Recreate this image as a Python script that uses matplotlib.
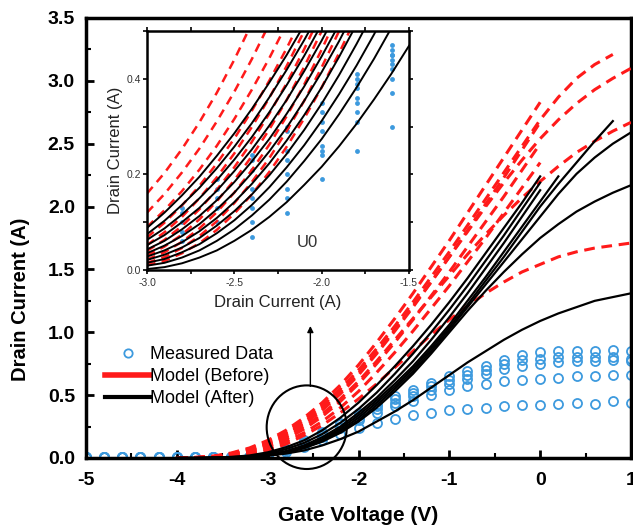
import numpy as np
import matplotlib
matplotlib.use("Agg")
import matplotlib.pyplot as plt
from matplotlib.lines import Line2D
from matplotlib.patches import Ellipse
from matplotlib.ticker import MultipleLocator, FormatStrFormatter

plt.rcParams['font.family'] = ['Liberation Sans', 'DejaVu Sans']
plt.rcParams['axes.unicode_minus'] = False

RED = '#ff1a1a'
BLUE = '#3d9ade'

# ---- measured data (main plot), gate voltage step 0.2 V
vg_meas = [-5.0, -4.8, -4.6, -4.4, -4.2, -4.0, -3.8, -3.6, -3.4, -3.2,
           -3.0, -2.8, -2.6, -2.4, -2.2, -2.0, -1.8, -1.6, -1.4, -1.2,
           -1.0, -0.8, -0.6, -0.4, -0.2, 0.0, 0.2, 0.4, 0.6, 0.8, 1.0]
meas_a = [0.01, 0.01, 0.01, 0.01, 0.01, 0.01, 0.01, 0.01, 0.01, 0.01,
          0.03, 0.07, 0.14, 0.21, 0.28, 0.36, 0.43, 0.49, 0.54, 0.60,
          0.65, 0.69, 0.73, 0.78, 0.82, 0.84, 0.85, 0.85, 0.85, 0.86, 0.85]
meas_b = [0.01, 0.01, 0.01, 0.01, 0.01, 0.01, 0.01, 0.01, 0.01, 0.01,
          0.03, 0.07, 0.13, 0.20, 0.27, 0.34, 0.41, 0.47, 0.52, 0.57,
          0.62, 0.66, 0.70, 0.75, 0.78, 0.79, 0.80, 0.80, 0.80, 0.80, 0.79]
meas_c = [0.01, 0.01, 0.01, 0.01, 0.01, 0.01, 0.01, 0.01, 0.01, 0.01,
          0.02, 0.06, 0.12, 0.18, 0.25, 0.32, 0.39, 0.44, 0.49, 0.54,
          0.59, 0.63, 0.67, 0.71, 0.73, 0.75, 0.76, 0.77, 0.77, 0.78, 0.77]
meas_d = [0.01, 0.01, 0.01, 0.01, 0.01, 0.01, 0.01, 0.01, 0.01, 0.01,
          0.02, 0.06, 0.11, 0.17, 0.24, 0.30, 0.36, 0.41, 0.45, 0.50,
          0.54, 0.57, 0.59, 0.61, 0.62, 0.63, 0.64, 0.65, 0.65, 0.66, 0.66]
meas_e = [0.01, 0.01, 0.01, 0.01, 0.01, 0.01, 0.01, 0.01, 0.01, 0.01,
          0.02, 0.05, 0.09, 0.14, 0.19, 0.24, 0.28, 0.31, 0.34, 0.36,
          0.38, 0.39, 0.40, 0.41, 0.42, 0.42, 0.43, 0.44, 0.43, 0.45, 0.44]

# ---- model curves (main plot), gate voltage step 0.2 V from -4 V
vg_model = [-4.0, -3.8, -3.6, -3.4, -3.2, -3.0, -2.8, -2.6, -2.4, -2.2,
            -2.0, -1.8, -1.6, -1.4, -1.2, -1.0, -0.8, -0.6, -0.4, -0.2,
            0.0, 0.2, 0.4, 0.6, 0.8, 1.0]

before_1 = [0.0, 0.005, 0.015, 0.04, 0.08, 0.14, 0.22, 0.32, 0.44, 0.58, 0.74,
            0.92, 1.11, 1.31, 1.52, 1.73, 1.95, 2.17, 2.39, 2.61, 2.83]
before_2 = [0.0, 0.003, 0.01, 0.03, 0.06, 0.11, 0.18, 0.27, 0.38, 0.51, 0.66,
            0.83, 1.01, 1.20, 1.40, 1.60, 1.81, 2.02, 2.23, 2.45, 2.67]
before_3 = [0.0, 0.002, 0.008, 0.022, 0.048, 0.09, 0.15, 0.23, 0.33, 0.45, 0.59,
            0.75, 0.92, 1.10, 1.29, 1.48, 1.68, 1.88, 2.08, 2.29, 2.50]
before_4 = [0.0, 0.001, 0.006, 0.017, 0.038, 0.075, 0.13, 0.20, 0.29, 0.40, 0.53,
            0.68, 0.84, 1.01, 1.19, 1.37, 1.56, 1.75, 1.95, 2.15, 2.35]
before_5 = [0.0, 0.004, 0.013, 0.036, 0.073, 0.13, 0.205, 0.30, 0.415, 0.55, 0.70,
            0.87, 1.05, 1.24, 1.44, 1.64, 1.85, 2.06, 2.27, 2.48, 2.69,
            2.87, 3.02, 3.13, 3.21]
before_6 = [0.0, 0.003, 0.011, 0.032, 0.065, 0.12, 0.19, 0.285, 0.395, 0.525, 0.675,
            0.84, 1.02, 1.21, 1.40, 1.60, 1.80, 2.00, 2.19, 2.37, 2.54,
            2.69, 2.82, 2.93, 3.02, 3.10]
before_7 = [0.0, 0.002, 0.009, 0.026, 0.055, 0.10, 0.165, 0.25, 0.35, 0.47, 0.61,
            0.77, 0.94, 1.11, 1.28, 1.45, 1.62, 1.78, 1.93, 2.07, 2.20,
            2.32, 2.43, 2.52, 2.60, 2.67]
before_8 = [0.0, 0.001, 0.004, 0.012, 0.03, 0.06, 0.11, 0.18, 0.26, 0.36, 0.47,
            0.59, 0.72, 0.85, 0.98, 1.10, 1.21, 1.31, 1.40, 1.48, 1.54,
            1.60, 1.64, 1.67, 1.69, 1.71]

after_1 = [0.0, 0.0, 0.003, 0.009, 0.02, 0.045, 0.085, 0.14, 0.22, 0.32, 0.44,
           0.58, 0.73, 0.89, 1.06, 1.24, 1.43, 1.63, 1.83, 2.03, 2.24]
after_2 = [0.0, 0.0, 0.002, 0.006, 0.015, 0.035, 0.07, 0.12, 0.19, 0.28, 0.39,
           0.52, 0.67, 0.83, 1.00, 1.18, 1.37, 1.57, 1.77, 1.98, 2.19]
after_3 = [0.0, 0.0, 0.001, 0.004, 0.011, 0.026, 0.055, 0.10, 0.165, 0.25, 0.36,
           0.48, 0.62, 0.77, 0.94, 1.12, 1.31, 1.51, 1.71, 1.92, 2.13]
after_4 = [0.0, 0.0, 0.001, 0.003, 0.009, 0.022, 0.048, 0.09, 0.15, 0.235, 0.34,
           0.46, 0.59, 0.73, 0.89, 1.06, 1.25, 1.44, 1.64, 1.84, 2.04, 2.24]
after_5 = [0.0, 0.0, 0.001, 0.003, 0.009, 0.021, 0.045, 0.085, 0.14, 0.22, 0.32,
           0.44, 0.57, 0.71, 0.87, 1.04, 1.22, 1.41, 1.60, 1.80, 2.00,
           2.18, 2.35, 2.52, 2.68]
after_6 = [0.0, 0.0, 0.001, 0.003, 0.008, 0.02, 0.043, 0.08, 0.135, 0.21, 0.30,
           0.42, 0.55, 0.69, 0.85, 1.02, 1.20, 1.38, 1.56, 1.74, 1.92,
           2.10, 2.26, 2.39, 2.50, 2.59]
after_7 = [0.0, 0.0, 0.001, 0.003, 0.008, 0.02, 0.042, 0.078, 0.13, 0.20, 0.29,
           0.40, 0.53, 0.67, 0.83, 1.00, 1.17, 1.33, 1.48, 1.62, 1.75,
           1.86, 1.96, 2.04, 2.11, 2.17]
after_8 = [0.0, 0.0, 0.001, 0.003, 0.008, 0.018, 0.035, 0.06, 0.10, 0.15, 0.21,
           0.29, 0.37, 0.46, 0.56, 0.66, 0.76, 0.85, 0.94, 1.02, 1.09,
           1.15, 1.20, 1.25, 1.28, 1.31]

before_curves = [before_1, before_2, before_3, before_4, before_5, before_6, before_7, before_8]
after_curves = [after_1, after_2, after_3, after_4, after_5, after_6, after_7, after_8]

# ---- inset (zoom of the circled region), step 0.1 V from -3 V
vg_zoom = [-3.0, -2.9, -2.8, -2.7, -2.6, -2.5, -2.4, -2.3, -2.2, -2.1,
           -2.0, -1.9, -1.8, -1.7, -1.6, -1.5]
zoom_after = [
    [.088, .120, .156, .195, .239, .286, .337, .392, .450, .513],
    [.075, .103, .136, .172, .213, .258, .307, .361, .419, .481, .547],
    [.063, .087, .116, .150, .188, .231, .278, .330, .387, .448, .514],
    [.052, .073, .100, .130, .166, .207, .252, .302, .356, .416, .480, .549],
    [.043, .061, .085, .113, .146, .184, .227, .274, .327, .384, .447, .514],
    [.035, .051, .071, .096, .127, .162, .203, .248, .298, .354, .414, .479, .550],
    [.028, .041, .058, .081, .109, .142, .180, .223, .271, .324, .382, .446, .514],
    [.021, .032, .047, .067, .093, .123, .158, .198, .243, .293, .348, .408, .473, .542],
    [.015, .023, .037, .054, .077, .104, .136, .173, .215, .261, .312, .368, .428, .493, .563],
    [.009, .015, .026, .041, .061, .085, .114, .147, .185, .228, .274, .326, .382, .442, .507],
    [.002, .006, .014, .026, .041, .061, .084, .111, .142, .178, .216, .259, .306, .357, .411, .469],
]
zoom_before = [
    [.160, .203, .253, .309, .371, .440, .516],
    [.120, .159, .204, .254, .311, .373, .441, .515],
    [.090, .125, .165, .210, .260, .316, .377, .443, .515],
    [.068, .099, .135, .176, .223, .275, .333, .396, .464, .538],
    [.052, .079, .111, .150, .194, .244, .299, .360, .427, .500, .578],
    [.040, .063, .092, .127, .168, .215, .268, .327, .391, .462, .539],
    [.030, .049, .074, .106, .144, .188, .238, .294, .356, .425, .500, .581],
    [.022, .037, .059, .087, .121, .162, .209, .262, .322, .388, .461, .540],
    [.015, .027, .046, .071, .102, .140, .184, .234, .291, .354, .424, .500, .582],
    [.010, .019, .035, .056, .084, .118, .158, .205, .258, .317, .382, .454, .531],
]
zoom_meas_vg = [-2.8, -2.6, -2.4, -2.2, -2.0, -1.8, -1.6]
zoom_meas = [
    [0.06, 0.08, 0.10, 0.12, 0.13],
    [0.10, 0.13, 0.15, 0.17, 0.19],
    [0.07, 0.10, 0.13, 0.15, 0.17, 0.21, 0.23, 0.24],
    [0.12, 0.15, 0.17, 0.20, 0.23, 0.25, 0.29, 0.30],
    [0.19, 0.24, 0.25, 0.26, 0.29, 0.31, 0.33, 0.35],
    [0.25, 0.31, 0.33, 0.35, 0.36, 0.38, 0.39, 0.40, 0.41],
    [0.30, 0.37, 0.40, 0.42, 0.43, 0.44, 0.45, 0.45, 0.46, 0.47],
]

fig = plt.figure(figsize=(6.33, 5.28), dpi=100)
ax = fig.add_axes([86 / 633, 1 - 458 / 528, 545 / 633, 440 / 528])

for ys in [meas_a, meas_b, meas_c, meas_d, meas_e]:
    ax.plot(vg_meas, ys, 'o', ms=6.5, mfc='none', mec=BLUE, mew=1.3, zorder=2)
for ys in before_curves:
    ax.plot(vg_model[:len(ys)], ys, color=RED, lw=2.2, ls=(0, (3.5, 2.2)), zorder=3)
for ys in after_curves:
    ax.plot(vg_model[:len(ys)], ys, color='black', lw=1.6, zorder=4)

ax.set_xlim(-5, 1)
ax.set_ylim(0, 3.5)
ax.xaxis.set_major_locator(MultipleLocator(1))
ax.xaxis.set_minor_locator(MultipleLocator(0.5))
ax.yaxis.set_major_locator(MultipleLocator(0.5))
ax.yaxis.set_minor_locator(MultipleLocator(0.25))
ax.yaxis.set_major_formatter(FormatStrFormatter('%.1f'))
ax.tick_params(which='major', direction='in', length=6, width=2, labelsize=14)
ax.tick_params(axis='y', which='major', pad=8)
ax.tick_params(axis='x', which='major', pad=10)
ax.tick_params(which='minor', direction='in', length=3.5, width=1.5)
for lab in ax.get_xticklabels() + ax.get_yticklabels():
    lab.set_fontweight('bold')
for sp in ax.spines.values():
    sp.set_linewidth(2.5)
ax.set_xlabel('Gate Voltage (V)', fontsize=15, fontweight='bold')
ax.set_ylabel('Drain Current (A)', fontsize=14.5, fontweight='bold')
ax.xaxis.set_label_coords(0.5, -0.11)
ax.yaxis.set_label_coords(-0.103, 0.36)

# circled region and arrow toward the inset
ax.add_patch(Ellipse((0.405, 0.07), 0.147, 0.19, transform=ax.transAxes,
                     fill=False, ec='black', lw=1.5, clip_on=False, zorder=6))
ax.annotate('', xy=(-2.53, 1.05), xytext=(-2.53, 0.57),
            arrowprops=dict(arrowstyle='-|>', color='black', lw=1.0,
                            mutation_scale=9, shrinkA=0, shrinkB=0), zorder=6)

handles = [
    Line2D([], [], ls='none', marker='o', ms=6, mfc='none', mec=BLUE, mew=1.3),
    Line2D([], [], color=RED, lw=4),
    Line2D([], [], color='black', lw=3),
]
ax.legend(handles, ['Measured Data', 'Model (Before)', 'Model (After)'],
          loc='upper left', bbox_to_anchor=(96 / 633, 1 - 337 / 528),
          bbox_transform=fig.transFigure, frameon=False, fontsize=13,
          handlelength=2.5, handletextpad=0.0, labelspacing=0.28, borderpad=0)

# ---- inset
axi = fig.add_axes([147 / 633, 1 - 270 / 528, 262 / 633, 239 / 528])
axi.set_facecolor('white')
for xv, col in zip(zoom_meas_vg, zoom_meas):
    axi.plot([xv] * len(col), col, 'o', ms=3.5, color=BLUE, mew=0, zorder=1)
for ys in zoom_before:
    axi.plot(vg_zoom[:len(ys)], ys, color=RED, lw=1.8, ls=(0, (3.5, 2.5)), zorder=2)
for ys in zoom_after:
    axi.plot(vg_zoom[:len(ys)], ys, color='black', lw=1.4, zorder=3)
axi.text(-2.08, 0.058, 'U0', fontsize=12, color='#333333', ha='center', va='center')

axi.set_xlim(-3.0, -1.5)
axi.set_ylim(0, 0.5)
axi.xaxis.set_major_locator(MultipleLocator(0.5))
axi.xaxis.set_minor_locator(MultipleLocator(0.25))
axi.yaxis.set_major_locator(MultipleLocator(0.2))
axi.yaxis.set_minor_locator(MultipleLocator(0.1))
axi.xaxis.set_major_formatter(FormatStrFormatter('%.1f'))
axi.yaxis.set_major_formatter(FormatStrFormatter('%.1f'))
axi.tick_params(which='both', direction='out', length=3, width=1.2,
                labelsize=7.5, labelcolor='#333333', pad=1.5,
                top=True, right=True)
axi.tick_params(axis='x', pad=2.5)
for sp in axi.spines.values():
    sp.set_linewidth(1.8)
axi.set_xlabel('Drain Current (A)', fontsize=12, color='#222222', labelpad=5)
axi.set_ylabel('Drain Current (A)', fontsize=12, color='#222222', labelpad=2)

fig.savefig('out.png', dpi=100)
